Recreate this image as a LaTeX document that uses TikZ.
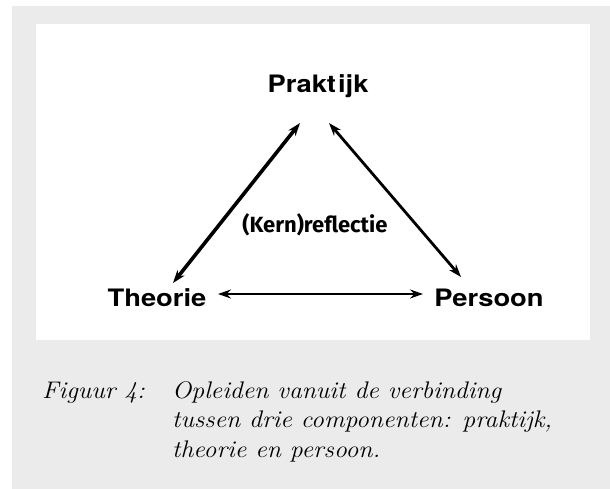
\documentclass[tikz,border=0pt]{standalone}
\usepackage{fontspec}
\usepackage{tikz}
\usepackage{xcolor}
\usetikzlibrary{arrows.meta,calc}
\newfontfamily\headfont[FakeStretch=1.14]{TeX Gyre Heros}
\newfontfamily\midfont{Fira Sans}
\newfontfamily\captfont[FakeStretch=1.07]{Latin Modern Roman}
\definecolor{Ink}{HTML}{000000}
\definecolor{Paper}{HTML}{EBEBEB}

\begin{document}
\begin{tikzpicture}[x=1pt, y=-1pt,
    corner/.style={font=\headfont\bfseries\fontsize{24}{28}\selectfont, text=Ink, inner sep=0pt, anchor=base},
    capt/.style={font=\captfont\itshape\fontsize{24}{29.5}\selectfont, text=Ink, inner sep=0pt, align=left},
    arr/.style={{Stealth[length=13pt,width=9pt]}-{Stealth[length=13pt,width=9pt]}, draw=Ink}
  ]
    \useasboundingbox (0,0) rectangle (610,489);
    \fill[Paper] (12,6) rectangle (610,489);
    \fill[white] (36,24) rectangle (590,340);
    \node[corner] (prak) at (318,93) {Prakt\kern2pt ijk};
    \node[corner] (theo) at (157,306) {Theorie};
    \node[corner] (pers) at (489,306) {Persoon};
    \node[font=\midfont\bfseries\fontsize{22}{26}\selectfont, inner sep=0pt, anchor=base] (refl) at (315,233) {(Kern)reflectie};
    \draw[arr, line width=3.6pt] ($(theo.base)+(16,-23)$) -- ($(prak.base)+(-18,30)$);
    \draw[arr, line width=2.8pt] ($(pers.base)+(-28,-29)$) -- ($(prak.base)+(11,30)$);
    \draw[arr, line width=2.4pt] ($(theo.base)+(61,-12)$) -- ($(pers.base)+(-66,-12)$);
    \node[capt, anchor=base west] (fig) at (42,398) {Figuur 4:};
    \node[capt, anchor=north west] (cap) at (172,381) {Opleiden vanuit de verbinding\\tussen drie componenten: praktijk,\\theorie en persoon.};
  \end{tikzpicture}
\end{document}
